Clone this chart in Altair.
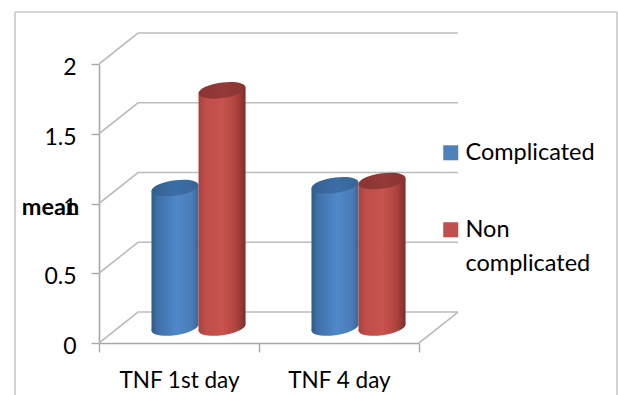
import altair as alt
import pandas as pd

# Chart values
categories = ["TNF 1st day", "TNF 4 day"]
series_names = ["Complicated", "Non complicated"]
complicated = [1.0, 1.02]
non_complicated = [1.70, 1.05]
y_ticks = [0, 0.5, 1, 1.5, 2]

# Oblique projection of the box, in axis units
DEPTH_X = 0.244
DEPTH_Y = 0.222
HALF_BAR = 0.147
TILT = 0.0215

FONT = "Lato"
GRID = "#bdbdbd"
AXIS = "#a8a8a8"
FRAME = "#c8c8c8"

x_scale = alt.Scale(domain=[0, 2], range=[99, 419])
y_scale = alt.Scale(domain=[0, 2], range=[343, 64])


def X(field):
    return alt.X(field, type="quantitative", scale=x_scale, axis=None)


def Y(field):
    return alt.Y(field, type="quantitative", scale=y_scale, axis=None)


def gradient(stops):
    return alt.Gradient(
        gradient="linear", x1=0, x2=1, y1=0, y2=0,
        stops=[alt.GradientStop(offset=o, color=c) for o, c in stops],
    )


BLUE_BODY = gradient([(0, "#2f5a88"), (0.14, "#3f71aa"), (0.55, "#5088c9"), (0.85, "#4a7db9"), (1, "#3c6698")])
RED_BODY = gradient([(0, "#a8403e"), (0.15, "#bf4e4b"), (0.5, "#c9534f"), (0.8, "#b0443f"), (1, "#7c2d2b")])
BLUE_TOP = gradient([(0, "#335f91"), (0.5, "#3c6ea6"), (1, "#386596")])
RED_TOP = gradient([(0, "#8a3432"), (0.5, "#953a38"), (1, "#8a3432")])

# Unit ellipse sheared upward to the right, so its ends meet the cylinder's sides
ELLIPSE = (
    "M1,-0.125C1,0.057,0.552,0.261,0,0.33C-0.552,0.399,-1,0.307,-1,0.125"
    "C-1,-0.057,-0.552,-0.261,0,-0.33C0.552,-0.399,1,-0.307,1,-0.125Z"
)

# Wall and floor lines: front edge, back to the wall, along the wall
grid_rows = []
for v in y_ticks:
    grid_rows += [
        {"k": f"g{v}", "x": 0, "y": v},
        {"k": f"g{v}", "x": DEPTH_X, "y": v + DEPTH_Y},
        {"k": f"g{v}", "x": 2 + DEPTH_X, "y": v + DEPTH_Y},
    ]
grid_rows += [
    {"k": "floor", "x": 2, "y": 0},
    {"k": "floor", "x": 2 + DEPTH_X, "y": DEPTH_Y},
]
grid = (
    alt.Chart(pd.DataFrame(grid_rows))
    .mark_line(color=GRID, strokeWidth=1.6)
    .encode(x=X("x"), y=Y("y"), detail="k:N")
)

# Category axis and value axis
axis_rows = pd.DataFrame({"cat": categories, "v": [0, 0]})
axes = (
    alt.Chart(axis_rows)
    .mark_point(opacity=0)
    .encode(
        x=alt.X(
            "cat:N",
            scale=alt.Scale(domain=categories, range=[99, 419], paddingInner=0, paddingOuter=0),
            axis=alt.Axis(
                title=None, offset=-52, tickBand="extent", labelAngle=0, grid=False,
                domainColor=AXIS, domainWidth=1.6, tickColor=AXIS, tickWidth=1.4, tickSize=9,
                labelFont=FONT, labelFontSize=22.5, labelColor="#000000", labelPadding=17,
            ),
        ),
        y=alt.Y(
            "v:Q",
            scale=y_scale,
            axis=alt.Axis(
                values=y_ticks, format="~g", offset=-99, grid=False,
                title="mean", titleAngle=0, titleFont=FONT, titleFontSize=23.5,
                titleFontWeight="bold", titleColor="#000000", titleAlign="center",
                titleBaseline="middle", titleX=-49, titleY=207,
                domainColor=AXIS, domainWidth=1.6, tickColor=AXIS, tickWidth=1.4, tickSize=8,
                labelFont=FONT, labelFontSize=23, labelColor="#000000", labelPadding=15,
                labelOffset=3.5,
            ),
        ),
    )
)


def cylinders(values, shift, body_fill, top_fill):
    """One series of upright cylinders standing on the middle of the floor."""
    centres = [i + 0.5 + DEPTH_X / 2 + shift for i in range(len(values))]
    ends = pd.DataFrame({"x": centres, "base": DEPTH_Y / 2, "top": [v + DEPTH_Y / 2 for v in values]})
    sides = pd.DataFrame(
        [
            {"k": i, "x": c + s * HALF_BAR, "lo": DEPTH_Y / 2 + s * TILT, "hi": v + DEPTH_Y / 2 + s * TILT}
            for i, (c, v) in enumerate(zip(centres, values))
            for s in (-1, 1)
        ]
    )
    bottom = alt.Chart(ends).mark_point(
        shape=ELLIPSE, size=2209, filled=True, fill=body_fill, opacity=1, strokeWidth=0
    ).encode(x=X("x"), y=Y("base"))
    body = alt.Chart(sides).mark_area(fill=body_fill, opacity=1, strokeWidth=0).encode(
        x=X("x"), y=Y("lo"), y2="hi:Q", detail="k:N"
    )
    cap = alt.Chart(ends).mark_point(
        shape=ELLIPSE, size=2209, filled=True, fill=top_fill, opacity=1, strokeWidth=0
    ).encode(x=X("x"), y=Y("top"))
    return [bottom, body, cap]


blue = cylinders(complicated, -HALF_BAR, BLUE_BODY, BLUE_TOP)
red = cylinders(non_complicated, HALF_BAR, RED_BODY, RED_TOP)

# Legend carrier: invisible marks whose colour scale feeds the legend
legend_rows = pd.DataFrame({"series": series_names, "x": [1, 1], "y": [0, 0]})
legend = (
    alt.Chart(legend_rows)
    .mark_point(filled=True, opacity=0)
    .encode(
        x=X("x"),
        y=Y("y"),
        color=alt.Color(
            "series:N",
            scale=alt.Scale(domain=series_names, range=["#4f81bd", "#c0504d"]),
            legend=alt.Legend(
                title=None, orient="none", legendX=439, legendY=148,
                symbolType="M-1,-1.93H1V0.07H-1Z", symbolSize=225, symbolOpacity=1,
                symbolStrokeWidth=0, labelFont=FONT, labelFontSize=23.5, labelColor="#000000",
                labelBaseline="alphabetic", labelOffset=3,
                labelLimit=200, rowPadding=52,
                labelExpr="datum.label == 'Non complicated' ? ['Non', 'complicated'] : datum.label",
            ),
        ),
    )
)

# Outer chart-area border, open at the bottom
frame_left = alt.Chart(legend_rows.head(1)).mark_rule(color=FRAME, strokeWidth=1.6).encode(
    x=alt.value(15), y=alt.value(12), y2=alt.value(395)
)
frame_right = alt.Chart(legend_rows.head(1)).mark_rule(color=FRAME, strokeWidth=1.6).encode(
    x=alt.value(617), y=alt.value(12), y2=alt.value(395)
)
frame_top = alt.Chart(legend_rows.head(1)).mark_rule(color=FRAME, strokeWidth=1.6).encode(
    y=alt.value(12), x=alt.value(15), x2=alt.value(617)
)

chart = (
    alt.layer(frame_left, frame_right, frame_top, grid, axes, *blue, *red, legend)
    .resolve_scale(x="independent")
    .resolve_axis(y="independent")
    .properties(width=618, height=395, padding=0, autosize="none", background="#ffffff")
    .configure(style={"guide-label": {"lineHeight": 34}})
    .configure_view(stroke=None)
)

chart.save("out.html", embed_options={"renderer": "svg", "actions": False})
